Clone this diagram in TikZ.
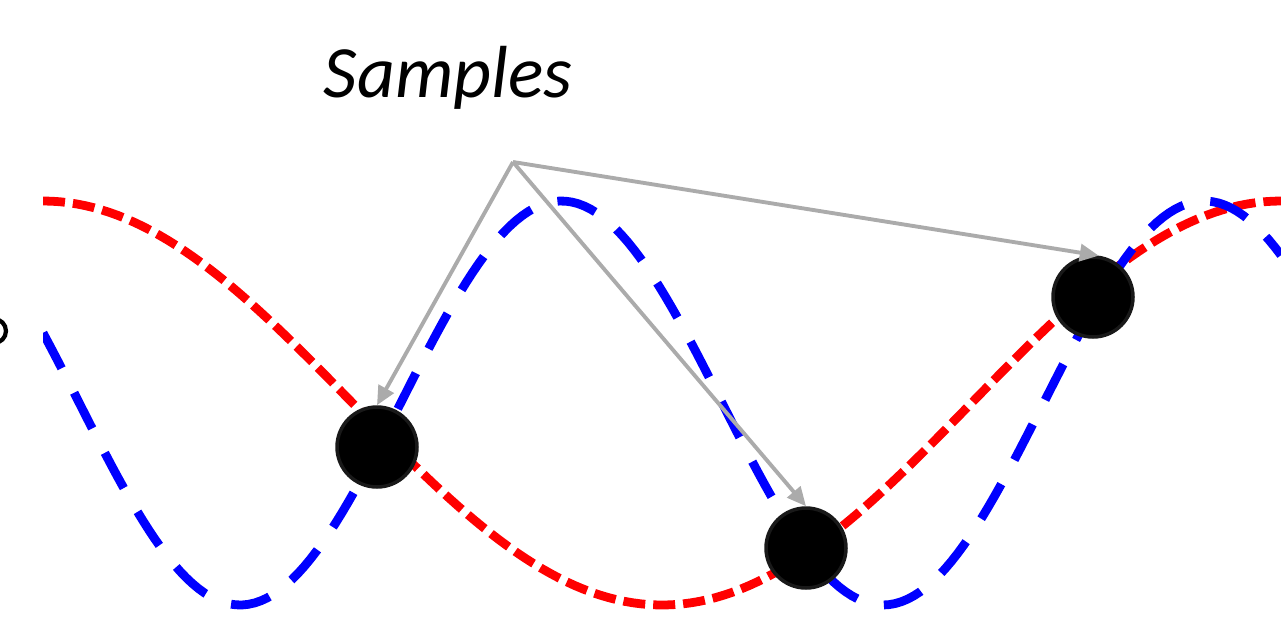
\documentclass[tikz,border=0pt]{standalone}
\usepackage{fontspec}
\newfontfamily\labelfont{Carlito}
\usetikzlibrary{arrows.meta}

\tikzset{
    redwave/.style={red, line width=5pt, dash pattern=on 0.44cm off 0.16cm},
    bluewave/.style={blue, line width=5pt, dash pattern=on 0.8cm off 0.55cm},
    sample/.style={circle, fill=black, draw=black!90, line width=2pt, minimum size=1.6cm, inner sep=0pt},
    pointer/.style={black!33, line width=2.2pt, -{Triangle[length=0.38cm,width=0.34cm]}}
}

\begin{document}
\begin{tikzpicture}[x=0.02cm,y=-0.02cm]
    \useasboundingbox (0,0) rectangle (1281,619);
    \def\ymid{403}
    \def\amp{202}

    % the two waves
    \begin{scope}
        \clip (43,0) rectangle (1281,619);
        \draw[redwave]
            plot[domain=43:1281,samples=150] (\x,{\ymid-\amp*cos((360/1238)*(\x-43))});
        \draw[bluewave]
            plot[domain=43:1281,samples=200] (\x,{\ymid-\amp*cos(0.56*\x+45.6)});
    \end{scope}

    % cut-off mark at the left border
    \draw[black, line width=2.4pt] (-6,331) circle[radius=12];

    \node[sample] (s1) at (377,447) {};
    \node[sample] (s2) at (806,548) {};
    \node[sample] (s3) at (1093,297) {};

    \node[anchor=base, font=\labelfont\itshape\fontsize{42}{50}\selectfont] (lbl) at (448,97) {Samples};
    \coordinate (src) at (513,162);

    \draw[pointer] (src) -- (s1.north);
    \draw[pointer] (src) -- (s2.north);
    \draw[pointer] (src) -- (s3.82);
\end{tikzpicture}
\end{document}
